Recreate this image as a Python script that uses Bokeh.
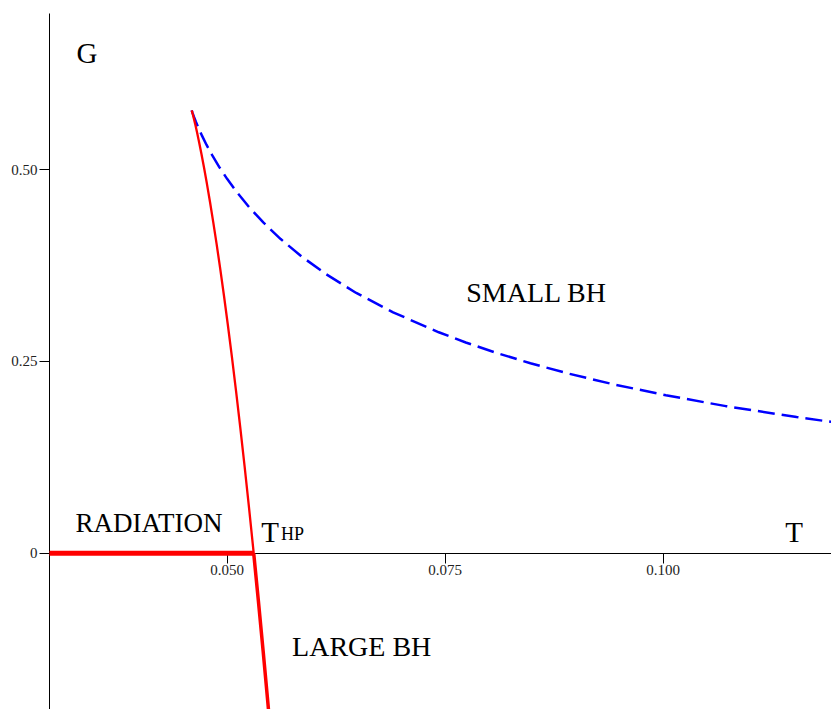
from bokeh.plotting import figure
from bokeh.models import Range1d, FixedTicker, NumeralTickFormatter, Label
from bokeh.embed import file_html
from bokeh.resources import INLINE

# ---- data ----
# small black hole branch (blue dashed)
small_T = [0.045940, 0.045966, 0.046047, 0.046196, 0.046420, 0.046730, 0.047135, 0.047650,
           0.048290, 0.049073, 0.050022, 0.051166, 0.052538, 0.054180, 0.056147, 0.058510,
           0.061358, 0.064810, 0.069036, 0.074272, 0.077365, 0.080845, 0.084781, 0.089259,
           0.094388, 0.100310, 0.107190, 0.115300, 0.119910]
small_G = [0.57735, 0.57658, 0.57380, 0.56909, 0.56250, 0.55411, 0.54400, 0.53222,
           0.51887, 0.50400, 0.48769, 0.47002, 0.45104, 0.43085, 0.40950, 0.38707,
           0.36364, 0.33926, 0.31403, 0.28800, 0.27471, 0.26125, 0.24763, 0.23386,
           0.21994, 0.20588, 0.19170, 0.17741, 0.17022]
# large black hole branch above G=0 (thin red)
large_up_T = [0.045940, 0.045978, 0.046061, 0.046188, 0.046356, 0.046561, 0.046799, 0.047068,
              0.047366, 0.047690, 0.048039, 0.048409, 0.048802, 0.049212, 0.049641, 0.050086,
              0.050547, 0.051023, 0.051511, 0.052013, 0.052527, 0.053052]
large_up_G = [0.57735, 0.57600, 0.57251, 0.56678, 0.55876, 0.54835, 0.53550, 0.52013,
              0.50216, 0.48154, 0.45817, 0.43200, 0.40295, 0.37094, 0.33592, 0.29779,
              0.25650, 0.21197, 0.16412, 0.11290, 0.05821, 0.00000]
# large black hole branch below G=0 (thick red)
large_lo_T = [0.053052, 0.053587, 0.054133, 0.054689, 0.054969]
large_lo_G = [0.00000, -0.06181, -0.12730, -0.19652, -0.23256]
# radiation phase (thick red on G=0)
rad_T = [0.02964, 0.053052]
rad_G = [0.0, 0.0]

x_ticks = [0.050, 0.075, 0.100]
y_ticks = [0.0, 0.25, 0.50]
y_tick_labels = {0: "0", 0.25: "0.25", 0.5: "0.50"}

SERIF = "Liberation Serif"

p = figure(width=831, height=709, output_backend="svg", toolbar_location=None,
           x_range=Range1d(0.02964, 0.11930), y_range=Range1d(-0.2038, 0.7036),
           min_border_left=49, min_border_top=13, min_border_right=0, min_border_bottom=0)
p.outline_line_color = None
p.xgrid.visible = False
p.ygrid.visible = False
p.background_fill_color = "white"
p.border_fill_color = "white"

# x axis crossing at G = 0
xa = p.xaxis[0]
xa.fixed_location = 0
xa.ticker = FixedTicker(ticks=x_ticks)
xa.formatter = NumeralTickFormatter(format="0.000")
xa.major_tick_out = 10
xa.major_tick_in = 0
xa.minor_tick_out = 0
xa.minor_tick_in = 0
xa.axis_line_color = "black"
xa.major_tick_line_color = "black"
xa.major_label_text_font = SERIF
xa.major_label_text_font_size = "15px"
xa.major_label_text_color = "#222222"
xa.major_label_standoff = 2

ya = p.yaxis[0]
ya.ticker = FixedTicker(ticks=y_ticks)
ya.major_label_overrides = y_tick_labels
ya.major_tick_out = 10
ya.major_tick_in = 0
ya.minor_tick_out = 0
ya.minor_tick_in = 0
ya.axis_line_color = "black"
ya.major_tick_line_color = "black"
ya.major_label_text_font = SERIF
ya.major_label_text_font_size = "15px"
ya.major_label_text_color = "#222222"
ya.major_label_standoff = 2
ya.major_label_orientation = "horizontal"

# curves
r1 = p.line(small_T, small_G, line_color="blue", line_width=2.5, line_dash="17 7")
r2 = p.line(large_up_T, large_up_G, line_color="red", line_width=2.3)
r3 = p.line(large_lo_T, large_lo_G, line_color="red", line_width=3.5)
r4 = p.line(rad_T, rad_G, line_color="red", line_width=5)
for r in (r1, r2, r3, r4):
    r.level = "overlay"

def lab(x, y, t, size):
    p.add_layout(Label(x=x, y=y, text=t, text_font=SERIF, text_font_size=size,
                       text_color="black", text_baseline="alphabetic", text_align="left"))

lab(0.03273, 0.6525, "G", "29px")
lab(0.11400, 0.0280, "T", "29px")
lab(0.05393, 0.0280, "T", "29px")
lab(0.05619, 0.0255, "HP", "18px")
lab(0.03261, 0.0395, "RADIATION", "27px")
lab(0.07742, 0.3395, "SMALL BH", "28px")
lab(0.05745, -0.1215, "LARGE BH", "28px")

open("out.html", "w").write(file_html(p, INLINE))
